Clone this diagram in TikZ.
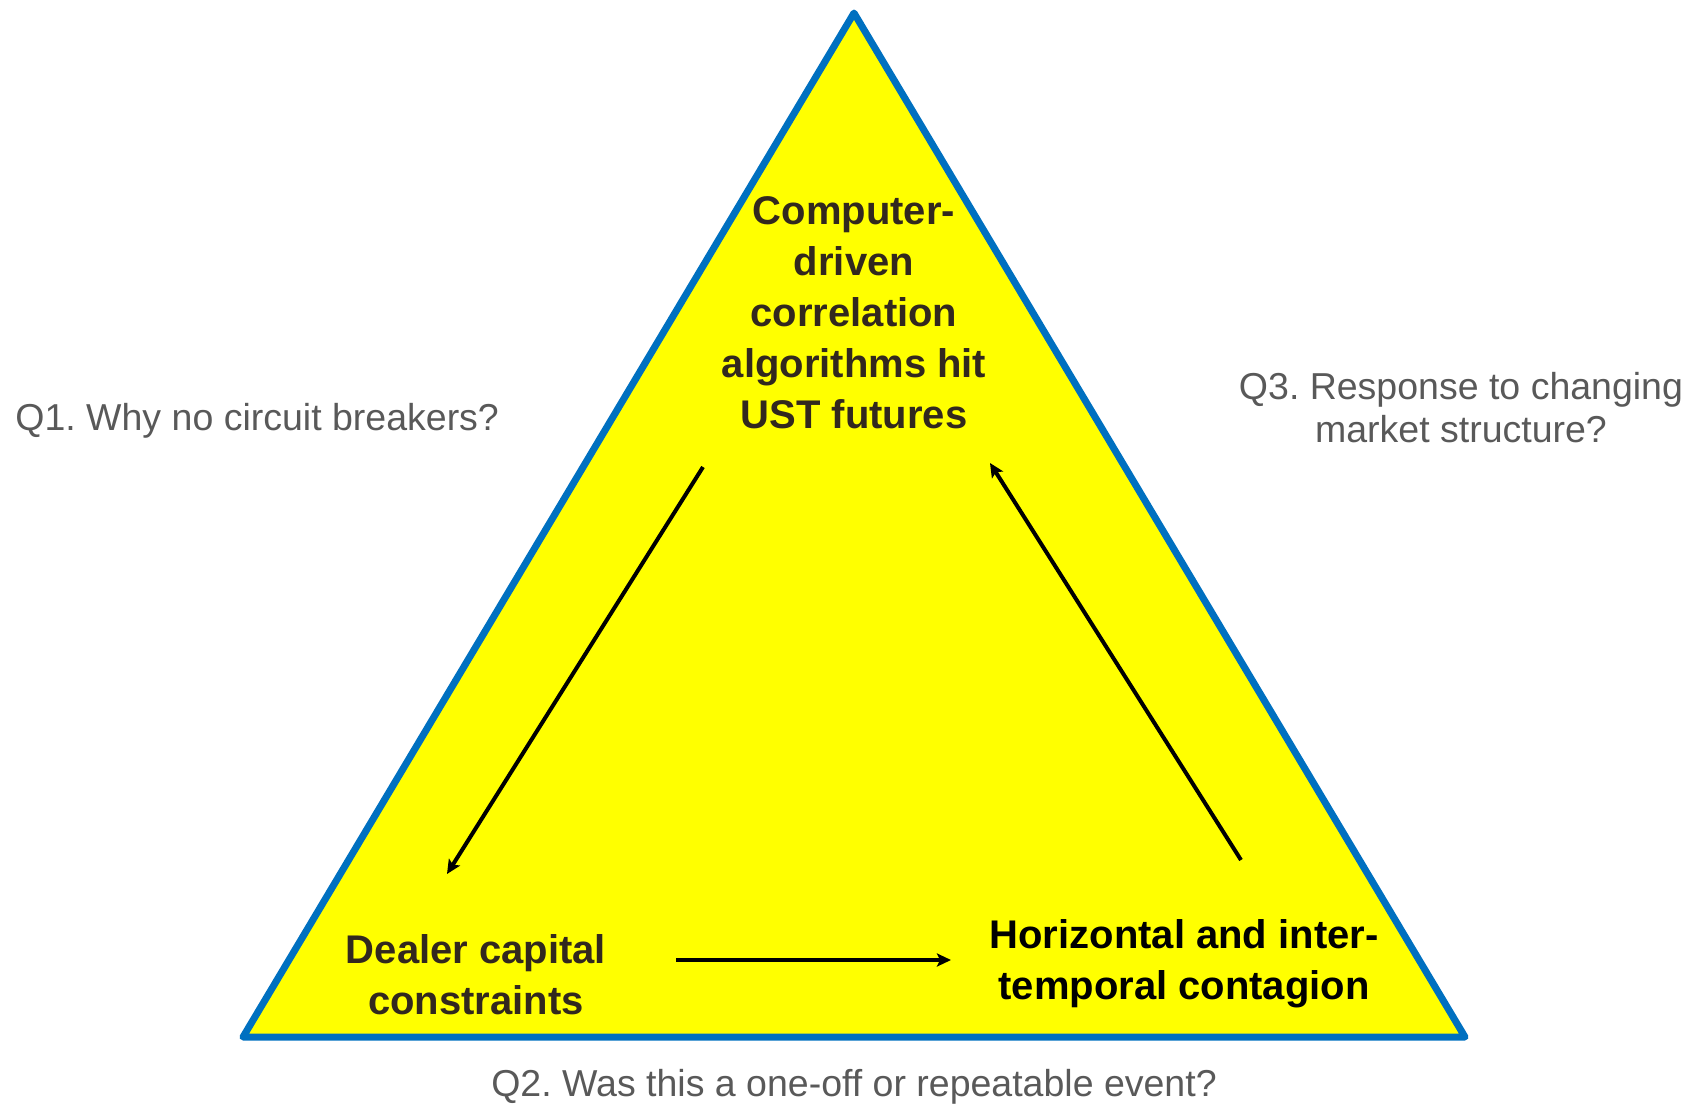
\documentclass[tikz,border=0pt]{standalone}
\usepackage{fontspec}
\setmainfont{Liberation Sans}
\usetikzlibrary{arrows.meta}
\definecolor{triblue}{HTML}{0070C0}
\definecolor{triyellow}{HTML}{FFFF00}
\definecolor{qgray}{HTML}{595959}
\definecolor{darktext}{RGB}{50,40,30}
\frenchspacing
\begin{document}
\begin{tikzpicture}[x=0.5pt,y=-0.5pt,>={Stealth[length=7pt,width=6.5pt,inset=1.5pt]},
    main node/.style={align=center,inner sep=0pt,font=\fontsize{20}{25.5}\selectfont\bfseries},
    question/.style={align=center,inner sep=0pt,text=qgray,font=\fontsize{18.75}{21.5}\selectfont},
    flow/.style={->,line width=2pt}]
    \useasboundingbox (0,0) rectangle (1693,1104);

    % the triangle
    \coordinate (top) at (854,13);
    \coordinate (right) at (1465,1037);
    \coordinate (left) at (243,1037);
    \draw[fill=triyellow,draw=triblue,line width=3.5pt,line join=round] (top) -- (right) -- (left) -- cycle;

    % corners
    \node[main node,text=darktext] (algo) at (854,313) {Computer-\\driven\\correlation\\algorithms hit\\UST futures};
    \node[main node,text=darktext] (dealer) at (476,975) {Dealer capital\\constraints};
    \node[main node] (contagion) at (1184,964) {Horizontal and inter-\\temporal contagion};

    % questions
    \node[question,anchor=base west] (q1) at (15,430) {Q1. Why no circuit breakers?};
    \node[question] (q3) at (1461,408) {Q3. Response to changing\\market structure?};
    \node[question,anchor=base] (q2) at (854,1096) {Q2. Was this a one-off or repeatable event?};

    % the loop
    \coordinate (algo out) at (703,467);
    \coordinate (dealer in) at (447,874);
    \coordinate (dealer out) at (676,960);
    \coordinate (contagion in) at (951,960);
    \coordinate (contagion out) at (1241,860);
    \coordinate (algo in) at (990,463);
    \draw[flow] (algo out) -- (dealer in);
    \draw[flow] (dealer out) -- (contagion in);
    \draw[flow] (contagion out) -- (algo in);
\end{tikzpicture}
\end{document}
